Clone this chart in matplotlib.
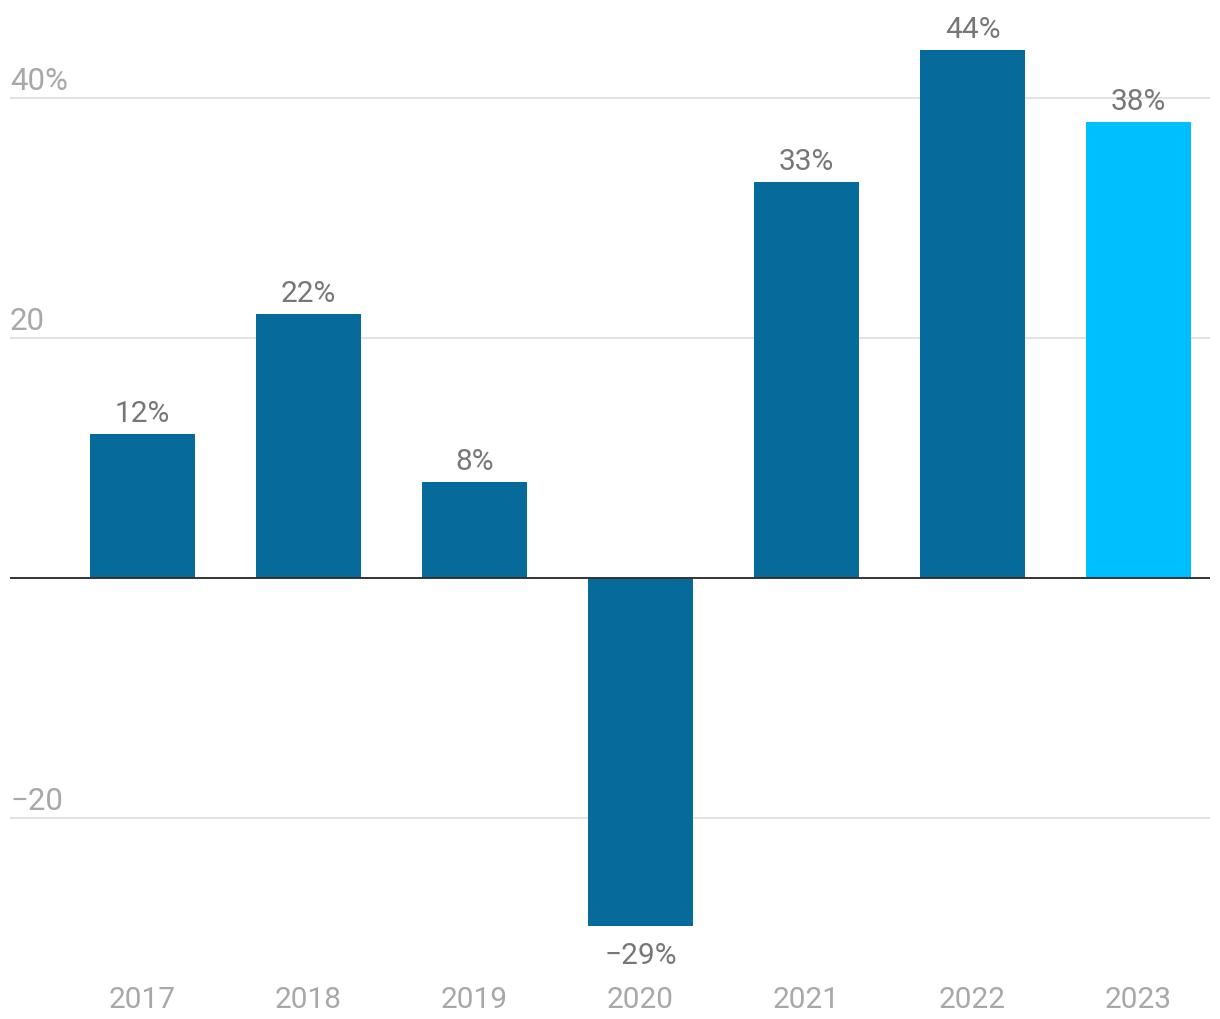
import matplotlib
matplotlib.use("Agg")
import matplotlib.pyplot as plt

years = ["2017", "2018", "2019", "2020", "2021", "2022", "2023"]
values = [12, 22, 8, -29, 33, 44, 38]
value_labels = ["12%", "22%", "8%", "−29%", "33%", "44%", "38%"]
ytick_values = [40, 20, -20]
ytick_labels = ["40%", "20", "−20"]

plt.rcParams['font.family'] = ['Roboto', 'DejaVu Sans']

fig = plt.figure(figsize=(12.2, 10.2), dpi=100)
ax = fig.add_axes([0, 0, 1, 1])
ax.set_axis_off()

# pixel mapping: x center 0 at px 142.5, step 166; y 0 at px ~578.5, 12 px/unit
y0 = 579
ax.set_xlim(-142.5 / 166, (1220 - 142.5) / 166)
ax.set_ylim((y0 - 1020) / 12, y0 / 12)

xl, xr = (10 - 142.5) / 166, (1210 - 142.5) / 166

for v, lab in zip(ytick_values, ytick_labels):
    ax.plot([xl, xr], [v, v], color="#e3e3e3", lw=1.4, zorder=1, solid_capstyle="butt")
    ax.text(xl, v + 0.75, lab, ha="left", va="baseline", fontsize=22.5, color="#a8a8a8")

colors = ["#066a9b"] * 6 + ["#00bfff"]
x = list(range(len(years)))
ax.bar(x, values, width=105 / 166, color=colors, zorder=2)
ax.plot([xl, xr], [0, 0], color="#333333", lw=1.4, zorder=3, solid_capstyle="butt")

for xi, v, lab in zip(x, values, value_labels):
    if v >= 0:
        ax.annotate(lab, (xi, v), xytext=(0, 9.4), textcoords="offset points",
                    ha="center", va="baseline", fontsize=21.5, color="#777777")
    else:
        ax.annotate(lab, (xi, v), xytext=(0, -26.6), textcoords="offset points",
                    ha="center", va="baseline", fontsize=21.5, color="#777777")

for xi, yr in zip(x, years):
    ax.text(xi, (578 - 1007) / 12, yr, ha="center", va="baseline", fontsize=21.5, color="#a8a8a8")

fig.savefig("out.png", dpi=100)
